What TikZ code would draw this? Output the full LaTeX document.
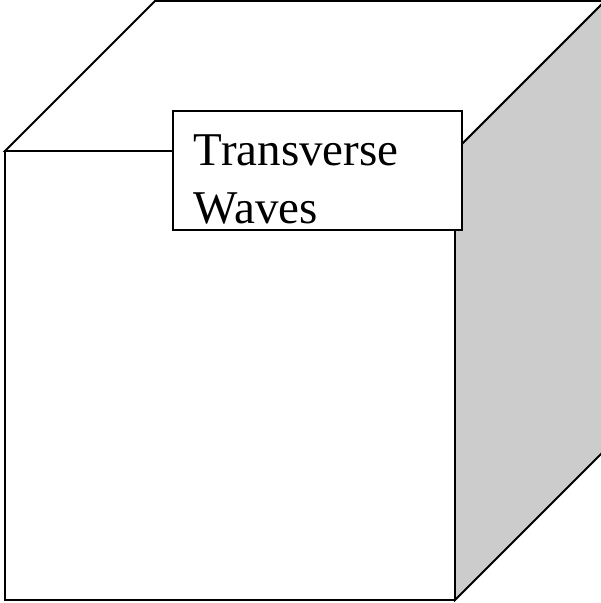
\documentclass[tikz,border=0pt]{standalone}
\usepackage{fontspec}
\setmainfont{Liberation Serif}
\usepackage{xcolor}
\definecolor{ink}  {HTML}{000000}
\definecolor{shade}{HTML}{CCCCCC}
\definecolor{card} {HTML}{FFFFFF}
\tikzset{
  face/.style  = {draw=ink, line width=1.1pt, line join=miter, fill=card},
  sface/.style = {face, fill=shade},
  lbox/.style  = {draw=ink, line width=1.1pt, fill=card, anchor=north west,
                  inner xsep=0.42cm, inner ysep=0pt,
                  text width=4.94cm, minimum width=5.78cm,
                  text height=1.1cm, text depth=1.28cm, align=left,
                  font=\fontsize{26.75pt}{33pt}\selectfont},
}

\begin{document}
\begin{tikzpicture}[x=0.02cm, y=-0.02cm]

  \useasboundingbox (0,0) rectangle (601,603);
  \clip (0,0) rectangle (601,603);

  % --- cube corners ---
  \coordinate (ftl) at (5,151);
  \coordinate (ftr) at (455,151);
  \coordinate (fbr) at (455,600);
  \coordinate (fbl) at (5,600);
  \coordinate (btl) at (155,1);
  \coordinate (btr) at (605,1);
  \coordinate (bbr) at (605,450);

  % --- faces ---
  \draw[face]  (ftl) -- (btl) -- (btr) -- (ftr) -- cycle;
  \draw[sface] (ftr) -- (btr) -- (bbr) -- (fbr) -- cycle;
  \draw[face]  (ftl) rectangle (fbr);

  % --- label ---
  \node[lbox] (title) at (172,110) {Transverse\\Waves};

\end{tikzpicture}
\end{document}
